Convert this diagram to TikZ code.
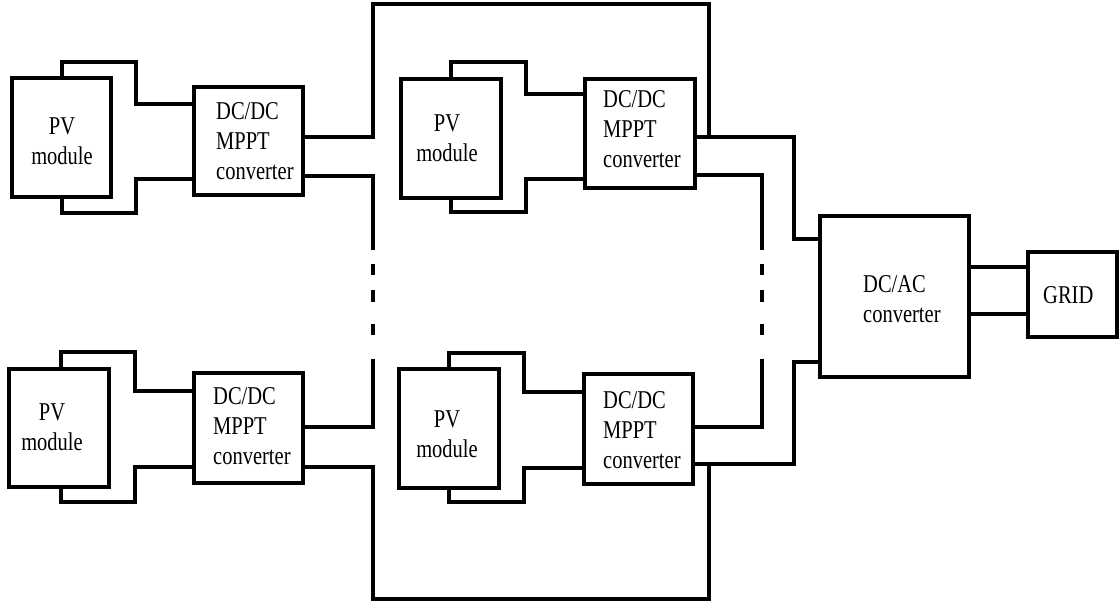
\documentclass[tikz,border=0pt]{standalone}
\usepackage{fontspec}
\usepackage{graphicx}
\setmainfont{Liberation Serif}
\newcommand{\mylines}[2]{\scalebox{1}[1.25]{\begin{tabular}[t]{@{}#1@{}}#2\end{tabular}}}
\tikzset{
  blk/.style={draw, line width=3.2pt, inner sep=0pt},
  wire/.style={line width=3.2pt},
  lbl/.style={inner sep=0pt, font=\fontsize{20.5}{24}\selectfont},
  gapline/.style={wire, dash pattern=on #1 off 14pt on 11pt off 15pt on 12pt off 22pt on 11pt off 24pt on 200pt}
}
\begin{document}
\begin{tikzpicture}[x=1pt,y=-1pt]
\useasboundingbox (0,0) rectangle (1119,604);
% boxes
\node[blk, minimum width=99pt, minimum height=119pt] (PV1) at (61.5,137.5) {};
\node[blk, minimum width=109pt, minimum height=108pt] (C1) at (248.5,141) {};
\node[blk, minimum width=100pt, minimum height=119pt] (PV2) at (451,138.5) {};
\node[blk, minimum width=110pt, minimum height=109pt] (C2) at (640,133.5) {};
\node[blk, minimum width=100pt, minimum height=118pt] (PV3) at (59,428) {};
\node[blk, minimum width=109pt, minimum height=110pt] (C3) at (248.5,428) {};
\node[blk, minimum width=100pt, minimum height=119pt] (PV4) at (449,428.5) {};
\node[blk, minimum width=109pt, minimum height=110pt] (C4) at (638.5,429) {};
\node[blk, minimum width=149pt, minimum height=161pt] (DCAC) at (894.5,296.5) {};
\node[blk, minimum width=89pt, minimum height=85pt] (GRID) at (1072.5,294.5) {};
% labels
\node[lbl, anchor=base] (tPV1) at (62,135) {\mylines{c}{PV\\module}};
\node[lbl, anchor=base] (tPV2) at (447,132) {\mylines{c}{PV\\module}};
\node[lbl, anchor=base] (tPV3) at (52,420) {\mylines{c}{PV\\module}};
\node[lbl, anchor=base] (tPV4) at (447,427) {\mylines{c}{PV\\module}};
\node[lbl, anchor=base west] (tC1) at (216,120) {\mylines{l}{DC/DC\\MPPT\\converter}};
\node[lbl, anchor=base west] (tC2) at (603,108) {\mylines{l}{DC/DC\\MPPT\\converter}};
\node[lbl, anchor=base west] (tC3) at (213,404) {\mylines{l}{DC/DC\\MPPT\\converter}};
\node[lbl, anchor=base west] (tC4) at (603,408) {\mylines{l}{DC/DC\\MPPT\\converter}};
\node[lbl, anchor=base west] (tDCAC) at (863,292) {\mylines{l}{DC/AC\\converter}};
\node[lbl, anchor=base west] (tGRID) at (1043,303) {\mylines{l}{GRID}};
% PV to converter loops
\draw[wire] (PV1.north -| 62,0) |- (136,62) |- (C1.west |- 0,104);
\draw[wire] (PV1.south -| 62,0) |- (136,213) |- (C1.west |- 0,179);
\draw[wire] (PV2.north -| 451,0) |- (526,62) |- (C2.west |- 0,94);
\draw[wire] (PV2.south -| 451,0) |- (526,212) |- (C2.west |- 0,179);
\draw[wire] (PV3.north -| 61,0) |- (135,352) |- (C3.west |- 0,391);
\draw[wire] (PV3.south -| 61,0) |- (135,502) |- (C3.west |- 0,467);
\draw[wire] (PV4.north -| 449,0) |- (524,353) |- (C4.west |- 0,392);
\draw[wire] (PV4.south -| 449,0) |- (524,502) |- (C4.west |- 0,468);
% series connections
\coordinate (topR) at (709,137);
\coordinate (botR) at (709,464);
\draw[wire] (C1.east |- 0,137) -| (373,4) -| (topR);
\draw[wire] (C2.east |- 0,137) -| (794,239) -- (DCAC.west |- 0,239);
\draw[gapline=142pt] (C1.east |- 0,176) -| (373,427) -- (C3.east |- 0,427);
\draw[gapline=140pt] (C2.east |- 0,175) -| (762,427) -- (C4.east |- 0,427);
\draw[wire] (C3.east |- 0,467) -| (373,599) -| (botR);
\draw[wire] (C4.east |- 0,464) -| (794,362) -- (DCAC.west |- 0,362);
% to grid
\draw[wire] (DCAC.east |- 0,267) -- (GRID.west |- 0,267);
\draw[wire] (DCAC.east |- 0,314) -- (GRID.west |- 0,314);
\end{tikzpicture}
\end{document}
